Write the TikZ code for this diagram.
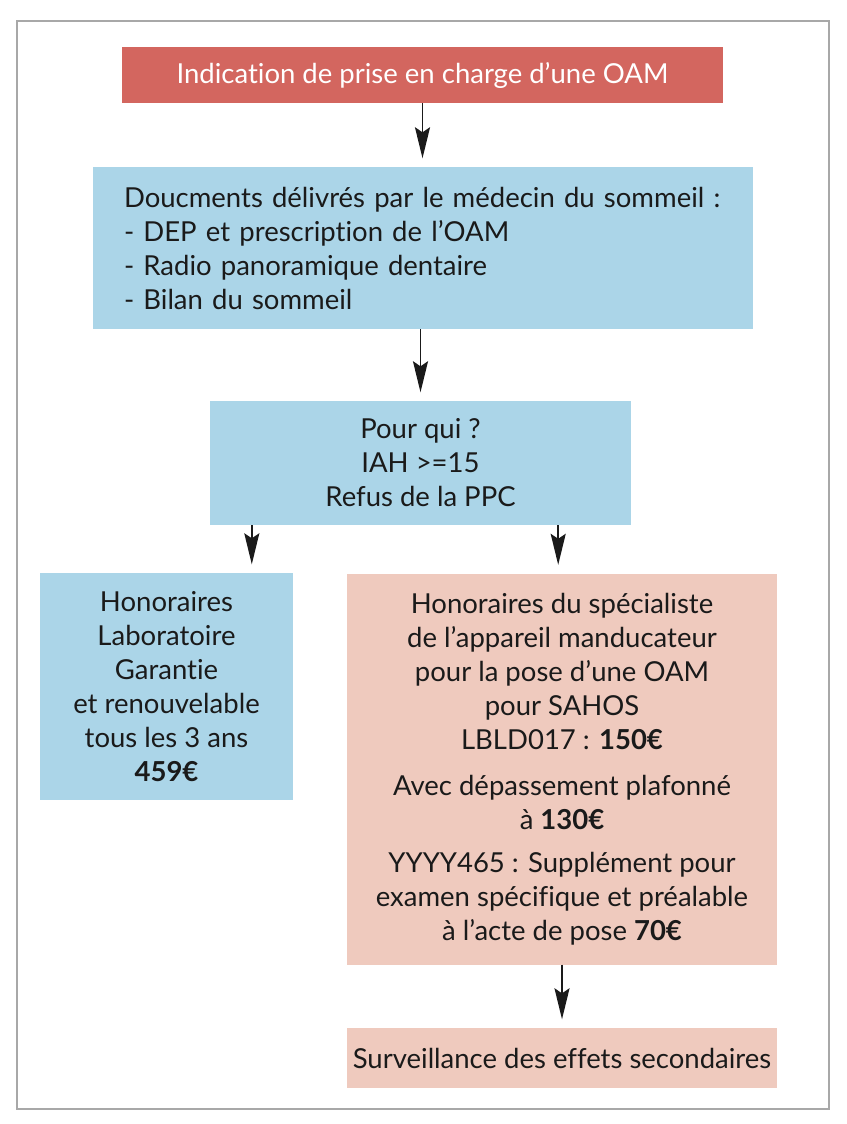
\documentclass[tikz,border=0pt]{standalone}
\usepackage{fontspec}
\setmainfont[Ligatures={NoCommon}]{Lato}
\usepackage{tikz}
\usetikzlibrary{arrows.meta,positioning,calc}
\definecolor{ChartRed}{HTML}{D3665F}
\definecolor{ChartBlue}{HTML}{ABD5E8}
\definecolor{ChartPink}{HTML}{EFCABE}
\definecolor{ChartInk}{HTML}{1A1A1A}
\definecolor{ChartFrame}{HTML}{A8A8A8}

\begin{document}
\begin{tikzpicture}[x=1pt,y=-1pt,
    box/.style={rectangle,inner sep=0pt,align=center,text=ChartInk,
      font=\fontsize{27.5}{34}\selectfont},
    flow/.style={-{Stealth[length=31pt,width=15pt,inset=5pt]},
      line width=1.8pt,ChartInk,shorten >=8.5pt}]
  \useasboundingbox (0,0) rectangle (846,1124);
  \draw[ChartFrame,line width=1.5pt] (17,21) rectangle (829,1109);
  % top of the chart
  \node[box,fill=ChartRed,text=white,minimum width=601pt,minimum height=56pt]
    (oam) at (422.5,75) {Indication de prise en charge d’une OAM};
  \node[box,fill=ChartBlue,align=left,text width=598pt,inner xsep=31pt,
        minimum height=162pt] (docs) at (423,248)
    {Doucments délivrés par le médecin du sommeil :\\
     - DEP et prescription de l’OAM\\
     - Radio panoramique dentaire\\
     - Bilan du sommeil};
  \node[box,fill=ChartBlue,minimum width=421pt,minimum height=124pt]
    (qui) at (420.5,463) {Pour qui ?\\IAH >=15\\Refus de la PPC};
  % the two branches
  \node[box,fill=ChartBlue,minimum width=253pt,minimum height=227pt]
    (tarif) at (166.5,686.5)
    {Honoraires\\Laboratoire\\Garantie\\et renouvelable\\tous les 3 ans\\
     \textbf{459€}};
  \node[box,fill=ChartPink,minimum width=430pt,minimum height=391pt]
    (pose) at (562,769)
    {Honoraires du spécialiste\\
     de l’appareil manducateur\\
     pour la pose d’une OAM\\
     pour SAHOS\\
     LBLD017 : \textbf{150€}\\[12pt]
     Avec dépassement plafonné\\
     à \textbf{130€}\\[9pt]
     YYYY465 : Supplément pour\\
     examen spécifique et préalable\\
     à l’acte de pose \textbf{70€}};
  \node[box,fill=ChartPink,minimum width=430pt,minimum height=60pt]
    (suivi) at (562,1058) {Surveillance des effets secondaires};
  % arrows
  \draw[flow] (oam.south) -- (oam.south |- docs.north);
  \draw[flow] (docs.south -| qui.north) -- (qui.north);
  \draw[flow] ([xshift=42pt]qui.south west) -- ([xshift=42pt]qui.south west |- tarif.north);
  \draw[flow] ([xshift=-73pt]qui.south east) -- ([xshift=-73pt]qui.south east |- pose.north);
  \draw[flow] (pose.south) -- (suivi.north);
\end{tikzpicture}
\end{document}
